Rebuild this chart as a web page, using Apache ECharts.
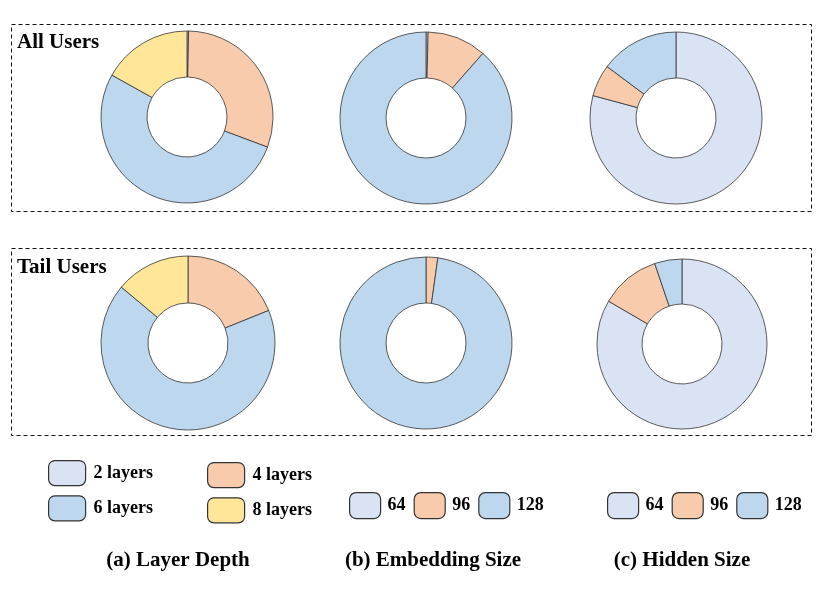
<!DOCTYPE html>
<html lang="en" style="height: 100%">
<head>
  <meta charset="utf-8">
</head>
<body style="height: 100%; margin: 0; background: #fff">
  <div id="container" style="width: 830px; height: 593px"></div>

  <script type="text/javascript" src="https://cdn.jsdelivr.net/npm/echarts@6.0.0/dist/echarts.min.js"></script>

  <script type="text/javascript">
    // category names
    var depthNames = ['2 layers', '4 layers', '6 layers', '8 layers'];
    var sizeNames = ['64', '96', '128'];

    // shares in % (clockwise from 12 o'clock)
    var depthAll = [0.3, 30.4, 52.4, 16.9];
    var depthTail = [0, 18.9, 67.2, 13.9];
    var embedAll = [0.4, 11.1, 88.5];
    var embedTail = [0, 2.2, 97.8];
    var hiddenAll = [79.2, 6.0, 14.8];
    var hiddenTail = [83.4, 11.4, 5.2];

    var rowLabels = ['All Users', 'Tail Users'];
    var captions = ['(a) Layer Depth', '(b) Embedding Size', '(c) Hidden Size'];

    var colorOf = {
      '2 layers': '#dae3f3', '4 layers': '#f8cbad', '6 layers': '#bdd7ee', '8 layers': '#ffe699',
      '64': '#dae3f3', '96': '#f8cbad', '128': '#bdd7ee'
    };

    var serif = '"Liberation Serif", "DejaVu Serif", serif';

    var dom = document.getElementById('container');
    var myChart = echarts.init(dom, null, { renderer: 'canvas' });

    function donut(names, values, cx, cy, r) {
      return {
        type: 'pie',
        center: [cx, cy],
        radius: [40, r],
        startAngle: 90,
        clockwise: true,
        silent: true,
        label: { show: false },
        labelLine: { show: false },
        emphasis: { disabled: true },
        itemStyle: { borderColor: '#333', borderWidth: 0.8 },
        data: names.map(function (n, i) {
          return { name: n, value: values[i], itemStyle: { color: colorOf[n] } };
        })
      };
    }

    var legendItem = { borderColor: '#333', borderWidth: 1.2 };

    function legend(names, orient, left, top, w, h, gap, padLeft) {
      return {
        data: names, orient: orient, left: left, top: top, padding: 0,
        itemWidth: w, itemHeight: h, itemGap: gap, icon: 'roundRect',
        selectedMode: false, itemStyle: legendItem,
        textStyle: {
          color: '#000', fontFamily: serif, fontWeight: 'bold', fontSize: 18,
          padding: [4, 0, 0, padLeft]
        }
      };
    }

    var dashed = { fill: 'none', stroke: '#111', lineWidth: 1, lineDash: [4, 3] };
    var bold = 'bold 21px ' + serif;

    var option = {
      animation: false,
      legend: [
        legend(['2 layers', '6 layers'], 'vertical', 48, 460, 37, 25, 9, 3),
        legend(['4 layers', '8 layers'], 'vertical', 207, 462, 37, 25, 9, 3),
        legend(sizeNames, 'horizontal', 349, 492, 31, 26, 8, 2),
        legend(sizeNames, 'horizontal', 607, 492, 31, 26, 8, 2)
      ],
      graphic: [
        { type: 'rect', shape: { x: 11.5, y: 24.5, width: 800, height: 187 }, style: dashed },
        { type: 'rect', shape: { x: 11.5, y: 248.5, width: 800, height: 187 }, style: dashed },
        { type: 'text', left: 17, top: 32, style: { text: rowLabels[0], fill: '#000', font: bold } },
        { type: 'text', left: 17, top: 257, style: { text: rowLabels[1], fill: '#000', font: bold } },
        {
          type: 'text', x: 178, y: 561,
          style: { text: captions[0], fill: '#000', font: bold, align: 'center', verticalAlign: 'middle' }
        },
        {
          type: 'text', x: 433, y: 561,
          style: { text: captions[1], fill: '#000', font: bold, align: 'center', verticalAlign: 'middle' }
        },
        {
          type: 'text', x: 682, y: 561,
          style: { text: captions[2], fill: '#000', font: bold, align: 'center', verticalAlign: 'middle' }
        }
      ],
      series: [
        donut(depthNames, depthAll, 187, 117, 86),
        donut(sizeNames, embedAll, 426, 118, 86),
        donut(sizeNames, hiddenAll, 676, 118, 86),
        donut(depthNames, depthTail, 188, 343, 87),
        donut(sizeNames, embedTail, 426, 343, 86),
        donut(sizeNames, hiddenTail, 682, 344, 85)
      ]
    };

    myChart.setOption(option);
    window.addEventListener('resize', myChart.resize);
  </script>
</body>
</html>
